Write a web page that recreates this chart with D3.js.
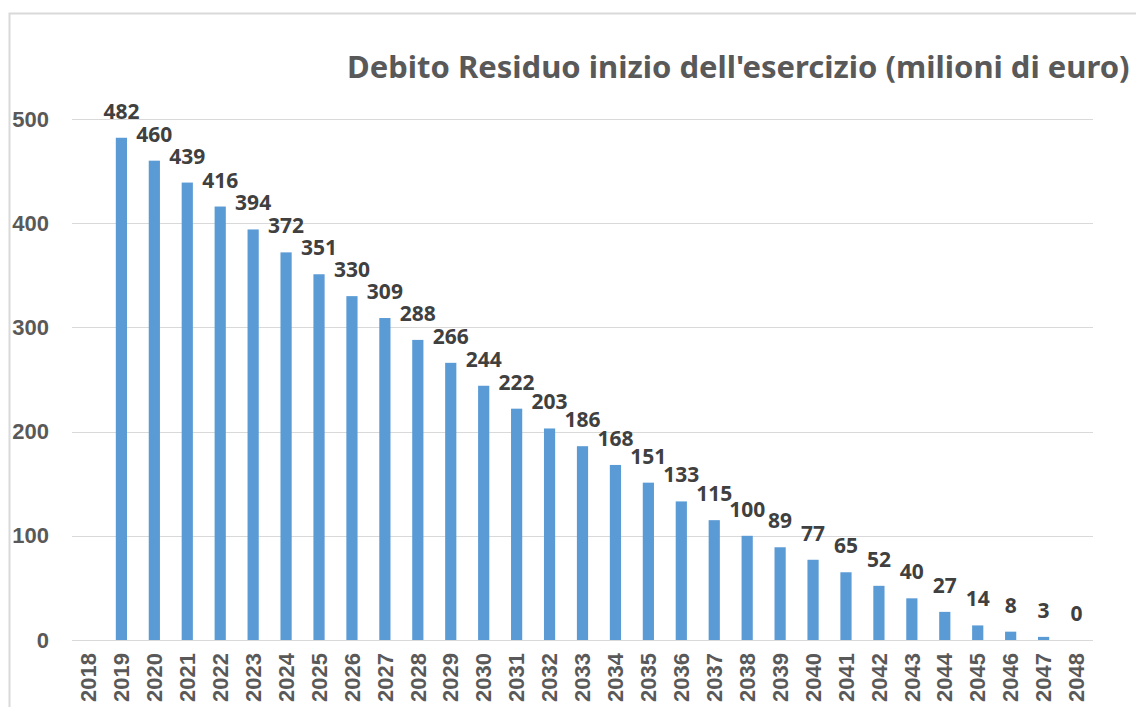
<!DOCTYPE html>
<html lang="it">
<head>
<meta charset="UTF-8">
<title>Debito Residuo</title>
<style>
    body { margin: 0; background: #fff; overflow: hidden; }
    svg { display: block; font-family: "Noto Sans", "Open Sans", sans-serif; }
    .axis text { font-weight: bold; fill: #595959; }
    .grid line { stroke: #d9d9d9; stroke-width: 1; shape-rendering: crispEdges; }
    .value { font-weight: bold; fill: #404040; font-size: 21px; text-anchor: middle; }
</style>
</head>
<body>
<div id="chart"></div>
<script src="https://d3js.org/d3.v7.min.js"></script>
<script>
const years = d3.range(2018, 2049).map(String);
const values = [null, 482, 460, 439, 416, 394, 372, 351, 330, 309, 288, 266, 244, 222, 203, 186,
    168, 151, 133, 115, 100, 89, 77, 65, 52, 40, 27, 14, 8, 3, 0];
const yTicks = [0, 100, 200, 300, 400, 500];
const title = "Debito Residuo inizio dell'esercizio (milioni di euro)";

const width = 1136, height = 707;
const plot = { left: 72, right: 1093, top: 119, bottom: 640 };

const svg = d3.select('#chart').append('svg')
    .attr('width', width)
    .attr('height', height);

// chart frame
svg.append('rect')
    .attr('x', 9.5).attr('y', 13.5)
    .attr('width', 1200).attr('height', 800)
    .attr('fill', 'none')
    .attr('stroke', '#d9d9d9')
    .attr('stroke-width', 2);

const x = d3.scaleBand().domain(years).range([plot.left, plot.right]).paddingInner(0.66).paddingOuter(0.33);
const y = d3.scaleLinear().domain([0, 500]).range([plot.bottom, plot.top]);

svg.append('g')
    .attr('class', 'grid')
    .selectAll('line')
    .data(yTicks)
    .join('line')
    .attr('x1', plot.left).attr('x2', plot.right)
    .attr('y1', d => Math.round(y(d)) + 0.5).attr('y2', d => Math.round(y(d)) + 0.5);

const yAxis = svg.append('g')
    .attr('class', 'axis')
    .attr('transform', 'translate(49,0)')
    .call(d3.axisLeft(y).tickValues(yTicks).tickSize(0).tickPadding(0));
yAxis.select('.domain').remove();
yAxis.selectAll('text').style('font-size', '22px');

const xAxis = svg.append('g')
    .attr('class', 'axis')
    .attr('transform', `translate(0,${plot.bottom})`)
    .call(d3.axisBottom(x).tickSize(0).tickPadding(0));
xAxis.select('.domain').remove();
xAxis.selectAll('text')
    .style('font-size', '22px')
    .attr('transform', 'rotate(-90)')
    .attr('text-anchor', 'end')
    .attr('x', -13)
    .attr('y', 0)
    .attr('dy', '0.35em');

const data = years.map((yr, i) => ({ year: yr, value: values[i] })).filter(d => d.value !== null);

svg.append('g')
    .selectAll('rect')
    .data(data)
    .join('rect')
    .attr('x', d => x(d.year))
    .attr('width', x.bandwidth())
    .attr('y', d => y(d.value))
    .attr('height', d => y(0) - y(d.value))
    .attr('fill', '#5b9bd5');

svg.append('g')
    .selectAll('text')
    .data(data)
    .join('text')
    .attr('class', 'value')
    .attr('x', d => x(d.year) + x.bandwidth() / 2)
    .attr('y', d => y(d.value) - 19)
    .text(d => d.value);

svg.append('text')
    .attr('x', 347)
    .attr('y', 78)
    .style('font-size', '31px')
    .style('font-weight', 'bold')
    .attr('fill', '#595959')
    .text(title);
</script>
</body>
</html>
